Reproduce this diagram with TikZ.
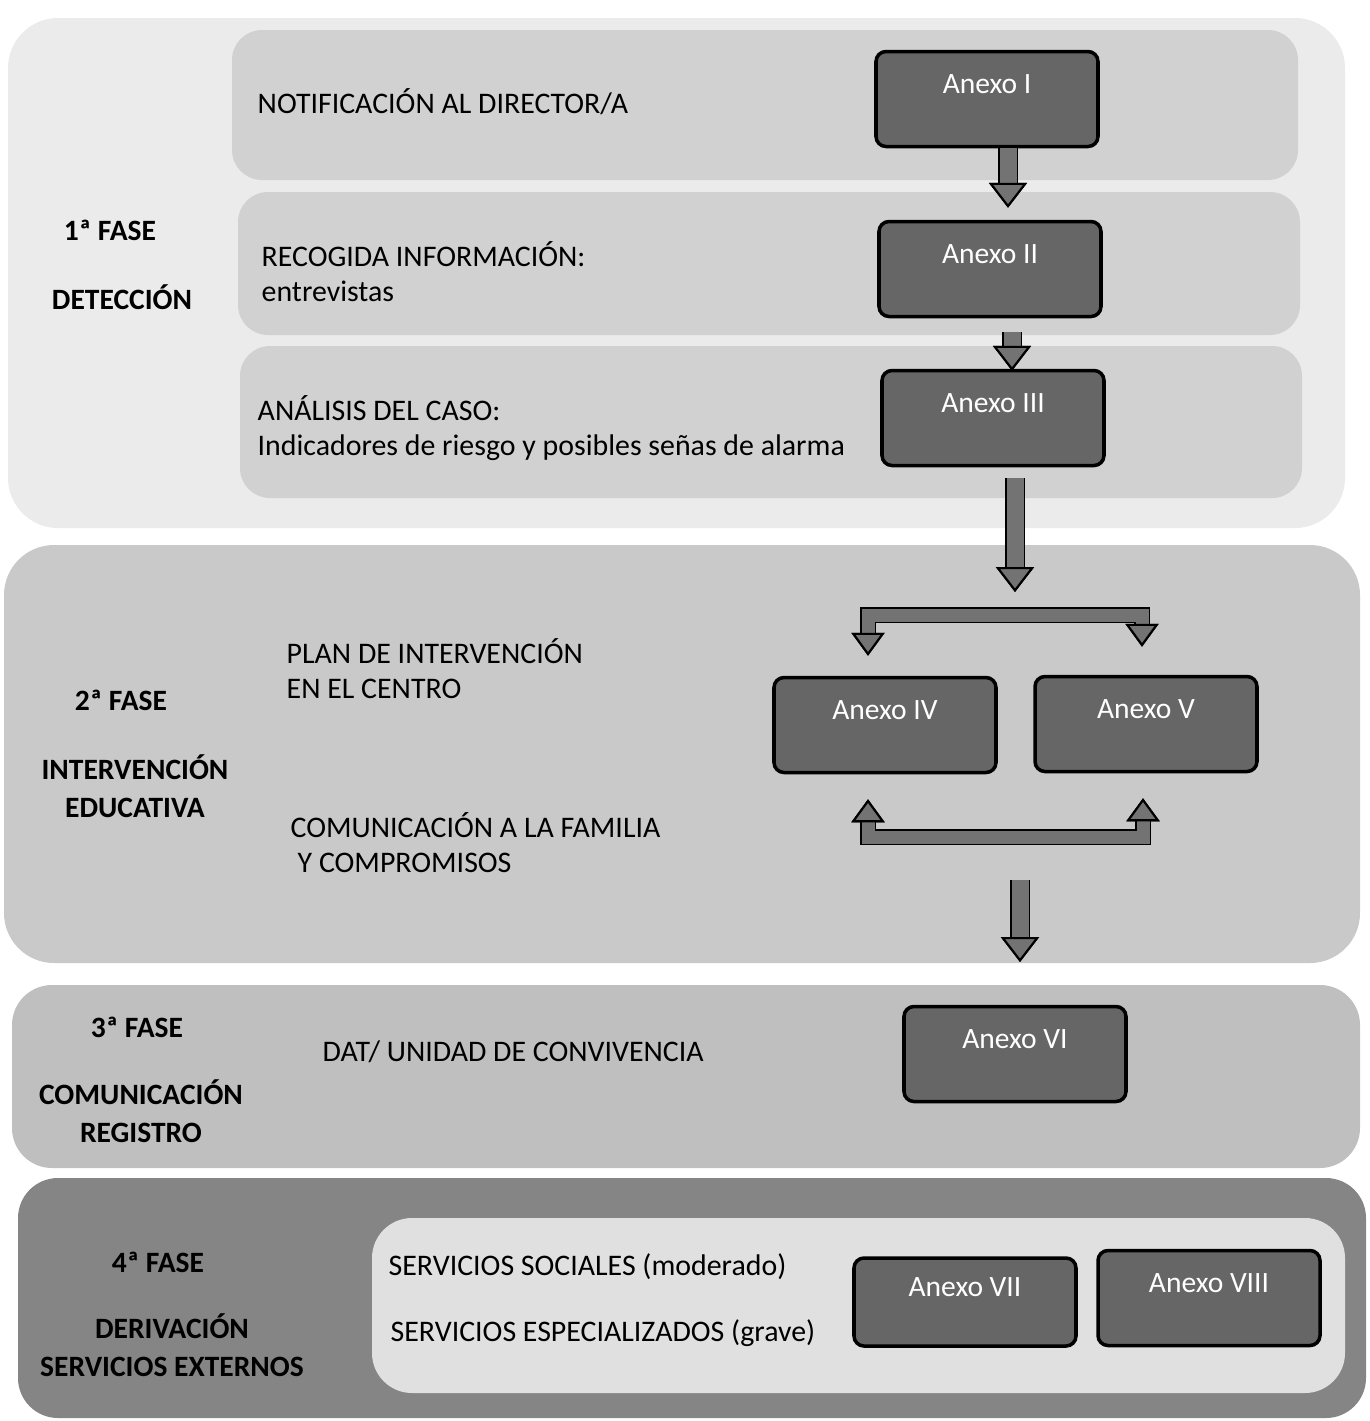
\documentclass[tikz,border=0pt]{standalone}
\usepackage{fontspec}
\setmainfont{Carlito}
\usetikzlibrary{arrows.meta,calc}

\definecolor{faseuno}{gray}{0.92}
\definecolor{banda}{gray}{0.82}
\definecolor{fasedos}{gray}{0.79}
\definecolor{fasetres}{gray}{0.75}
\definecolor{fasecuatro}{gray}{0.52}
\definecolor{interior}{gray}{0.88}
\definecolor{anexogris}{gray}{0.40}
\definecolor{flechagris}{gray}{0.45}

\tikzset{
  anexo/.style={draw=black, line width=1pt, fill=anexogris, rounded corners=1mm,
    minimum width=22.2mm, minimum height=9.5mm, text=white,
    text height=2.3mm, text depth=3.5mm, font=\fontsize{8.4}{10}\selectfont},
  texto/.style={anchor=west, align=left, inner sep=0pt,
    font=\fontsize{8.5}{10}\selectfont},
  titulo/.style={align=center, inner sep=0pt,
    font=\fontsize{8.4}{10.8}\selectfont\bfseries},
  flecha/.style={draw=flechagris, line width=1.7mm,
    preaction={draw=black, line width=2.0mm},
    -{Triangle[width=3.8mm,length=2.5mm,color=black,fill=flechagris,line width=0.6pt]}},
  brazo/.style={draw=flechagris, line width=1.3mm, line join=miter,
    preaction={draw=black, line width=1.6mm},
    {Triangle[width=3.3mm,length=2.3mm,color=black,fill=flechagris,line width=0.6pt]}-{Triangle[width=3.3mm,length=2.3mm,color=black,fill=flechagris,line width=0.6pt]}}
}

\begin{document}
\begin{tikzpicture}[x=0.1mm,y=-0.1mm]
\useasboundingbox (0,0) rectangle (1370,1421);

% fondos de las fases
\fill[faseuno, rounded corners=5mm] (8,18) rectangle (1345,528);
\fill[banda, rounded corners=3mm] (232,30) rectangle (1298,180);
\fill[banda, rounded corners=3mm] (238,192) rectangle (1300,335);
\fill[banda, rounded corners=3mm] (240,346) rectangle (1302,498);
\fill[fasedos, rounded corners=5mm] (4,545) rectangle (1360,963);
\fill[fasetres, rounded corners=4mm] (12,985) rectangle (1360,1168);
\fill[fasecuatro, rounded corners=4mm] (18,1178) rectangle (1366,1418);
\fill[interior, rounded corners=4mm] (372,1218) rectangle (1345,1393);

% 1a fase
\node[titulo] (f1) at (110,230) {1ª FASE};
\node[titulo] (f1n) at (122,297) {DETECCIÓN};
\node[texto] (notif) at (257,102) {NOTIFICACIÓN AL DIRECTOR/A};
\node[texto] (recog) at (261,272) {RECOGIDA INFORMACIÓN:\\entrevistas};
\node[texto] (anal) at (257,428) {ANÁLISIS DEL CASO:\\Indicadores de riesgo y posibles señas de alarma};
\node[anexo] (a1) at (987,99) {Anexo I};
\node[anexo] (a2) at (990,269) {Anexo II};
\node[anexo] (a3) at (993,418) {Anexo III};

% 2a fase
\node[titulo] (f2) at (121,700) {2ª FASE};
\node[titulo] (f2n) at (135,786) {INTERVENCIÓN\\EDUCATIVA};
\node[texto] (plan) at (286,669) {PLAN DE INTERVENCIÓN\\EN EL CENTRO};
\node[texto] (comu) at (290,843) {COMUNICACIÓN A LA FAMILIA\\\hspace{2pt}Y COMPROMISOS};
\node[anexo] (a4) at (885,725) {Anexo IV};
\node[anexo] (a5) at (1146,724) {Anexo V};

% 3a fase
\node[titulo] (f3) at (137,1027) {3ª FASE};
\node[titulo] (f3n) at (141,1111) {COMUNICACIÓN\\REGISTRO};
\node[texto] (dat) at (322,1052) {DAT/ UNIDAD DE CONVIVENCIA};
\node[anexo] (a6) at (1015,1054) {Anexo VI};

% 4a fase
\node[titulo] (f4) at (158,1262) {4ª FASE};
\node[titulo] (f4n) at (172,1345) {DERIVACIÓN\\SERVICIOS EXTERNOS};
\node[texto] (soc) at (388,1267) {SERVICIOS SOCIALES (moderado)};
\node[texto] (esp) at (390,1333) {SERVICIOS ESPECIALIZADOS (grave)};
\node[anexo, minimum height=8.8mm] (a7) at (965,1302) {Anexo VII};
\node[anexo] (a8) at (1209,1298) {Anexo VIII};

% flechas
\coordinate (rep) at (1015,592);
\coordinate (baja) at (1020,962);
\draw[flecha] ($(a1.south)+(21,0)$) -- ($(a2.north)+(18,-12)$);
\draw[flecha] ($(a2.south)+(22,14)$) -- ($(a3.north)+(19,2)$);
\draw[flecha] ($(a3.south)+(22,11)$) -- (rep);
\draw[brazo] ($(a4.north)+(-17,-20)$) |- ($(rep)+(0,23)$) -| ($(a5.north)+(-4,-28)$);
\draw[brazo] ($(a4.south)+(-17,25)$) |- ($(a4.south)+(120,63)$) -| ($(a5.south)+(-3,25)$);
\draw[flecha] ($(baja)+(0,-82)$) -- (baja);
\end{tikzpicture}
\end{document}
